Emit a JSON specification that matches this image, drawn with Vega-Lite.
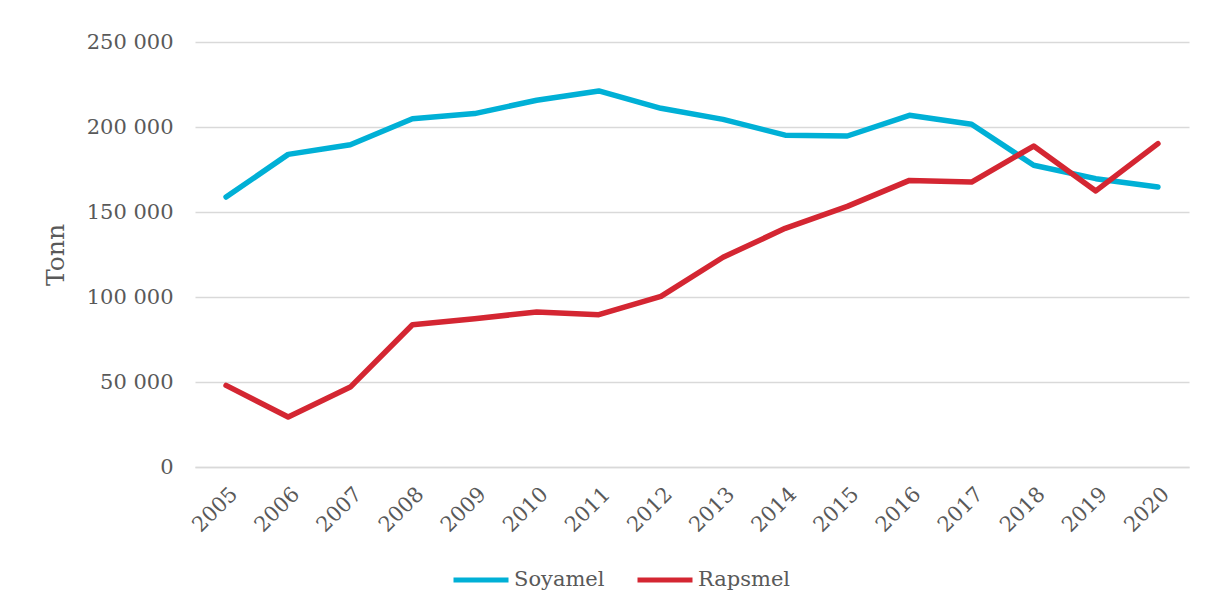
{
  "$schema": "https://vega.github.io/schema/vega-lite/v6.json",
  "width": 994,
  "height": 425,
  "autosize": {"type": "none"},
  "padding": {"left": 195, "top": 42, "right": 19, "bottom": 143},
  "background": "white",
  "data": {
    "values": [
      {"year": "2005", "series": "Soyamel", "value": 158800},
      {"year": "2006", "series": "Soyamel", "value": 183900},
      {"year": "2007", "series": "Soyamel", "value": 189600},
      {"year": "2008", "series": "Soyamel", "value": 204900},
      {"year": "2009", "series": "Soyamel", "value": 207900},
      {"year": "2010", "series": "Soyamel", "value": 215700},
      {"year": "2011", "series": "Soyamel", "value": 221200},
      {"year": "2012", "series": "Soyamel", "value": 211000},
      {"year": "2013", "series": "Soyamel", "value": 204500},
      {"year": "2014", "series": "Soyamel", "value": 195200},
      {"year": "2015", "series": "Soyamel", "value": 194700},
      {"year": "2016", "series": "Soyamel", "value": 206900},
      {"year": "2017", "series": "Soyamel", "value": 201600},
      {"year": "2018", "series": "Soyamel", "value": 177500},
      {"year": "2019", "series": "Soyamel", "value": 169600},
      {"year": "2020", "series": "Soyamel", "value": 164700},
      {"year": "2005", "series": "Rapsmel", "value": 48000},
      {"year": "2006", "series": "Rapsmel", "value": 29400},
      {"year": "2007", "series": "Rapsmel", "value": 47000},
      {"year": "2008", "series": "Rapsmel", "value": 83700},
      {"year": "2009", "series": "Rapsmel", "value": 87200},
      {"year": "2010", "series": "Rapsmel", "value": 91200},
      {"year": "2011", "series": "Rapsmel", "value": 89600},
      {"year": "2012", "series": "Rapsmel", "value": 100400},
      {"year": "2013", "series": "Rapsmel", "value": 123400},
      {"year": "2014", "series": "Rapsmel", "value": 140400},
      {"year": "2015", "series": "Rapsmel", "value": 153300},
      {"year": "2016", "series": "Rapsmel", "value": 168600},
      {"year": "2017", "series": "Rapsmel", "value": 167600},
      {"year": "2018", "series": "Rapsmel", "value": 188800},
      {"year": "2019", "series": "Rapsmel", "value": 162400},
      {"year": "2020", "series": "Rapsmel", "value": 190200}
    ]
  },
  "mark": {"type": "line", "strokeWidth": 5.5, "strokeCap": "round", "strokeJoin": "round"},
  "encoding": {
    "x": {
      "field": "year",
      "type": "ordinal",
      "scale": {"type": "point", "padding": 0.5},
      "axis": {
        "title": null,
        "labelAngle": -45,
        "labelFont": "DejaVu Serif",
        "labelFontSize": 21,
        "labelColor": "#595959",
        "ticks": false,
        "labelPadding": 16,
        "domainColor": "#D9D9D9",
        "domainWidth": 1.5,
        "grid": false
      }
    },
    "y": {
      "field": "value",
      "type": "quantitative",
      "scale": {"domain": [0, 250000], "nice": false},
      "axis": {
        "title": "Tonn",
        "titleFont": "DejaVu Serif",
        "titleFontSize": 25,
        "titleFontWeight": "normal",
        "titleColor": "#595959",
        "titlePadding": 18,
        "values": [0, 50000, 100000, 150000, 200000, 250000],
        "labelExpr": "replace(format(datum.value, ','), ',', ' ')",
        "labelFont": "DejaVu Serif",
        "labelFontSize": 21,
        "labelColor": "#595959",
        "labelPadding": 22,
        "ticks": false,
        "domain": false,
        "gridColor": "#D9D9D9",
        "gridWidth": 1.5
      }
    },
    "color": {
      "field": "series",
      "type": "nominal",
      "sort": ["Soyamel", "Rapsmel"],
      "scale": {"domain": ["Soyamel", "Rapsmel"], "range": ["#00B0D6", "#D42632"]},
      "legend": {
        "title": null,
        "orient": "none",
        "direction": "horizontal",
        "legendX": 256,
        "legendY": 508,
        "symbolType": "stroke",
        "symbolSize": 3025,
        "symbolStrokeWidth": 5,
        "labelFont": "DejaVu Serif",
        "labelFontSize": 21,
        "labelColor": "#595959",
        "labelOffset": 3,
        "columnPadding": 22
      }
    }
  },
  "config": {"view": {"stroke": null}}
}
